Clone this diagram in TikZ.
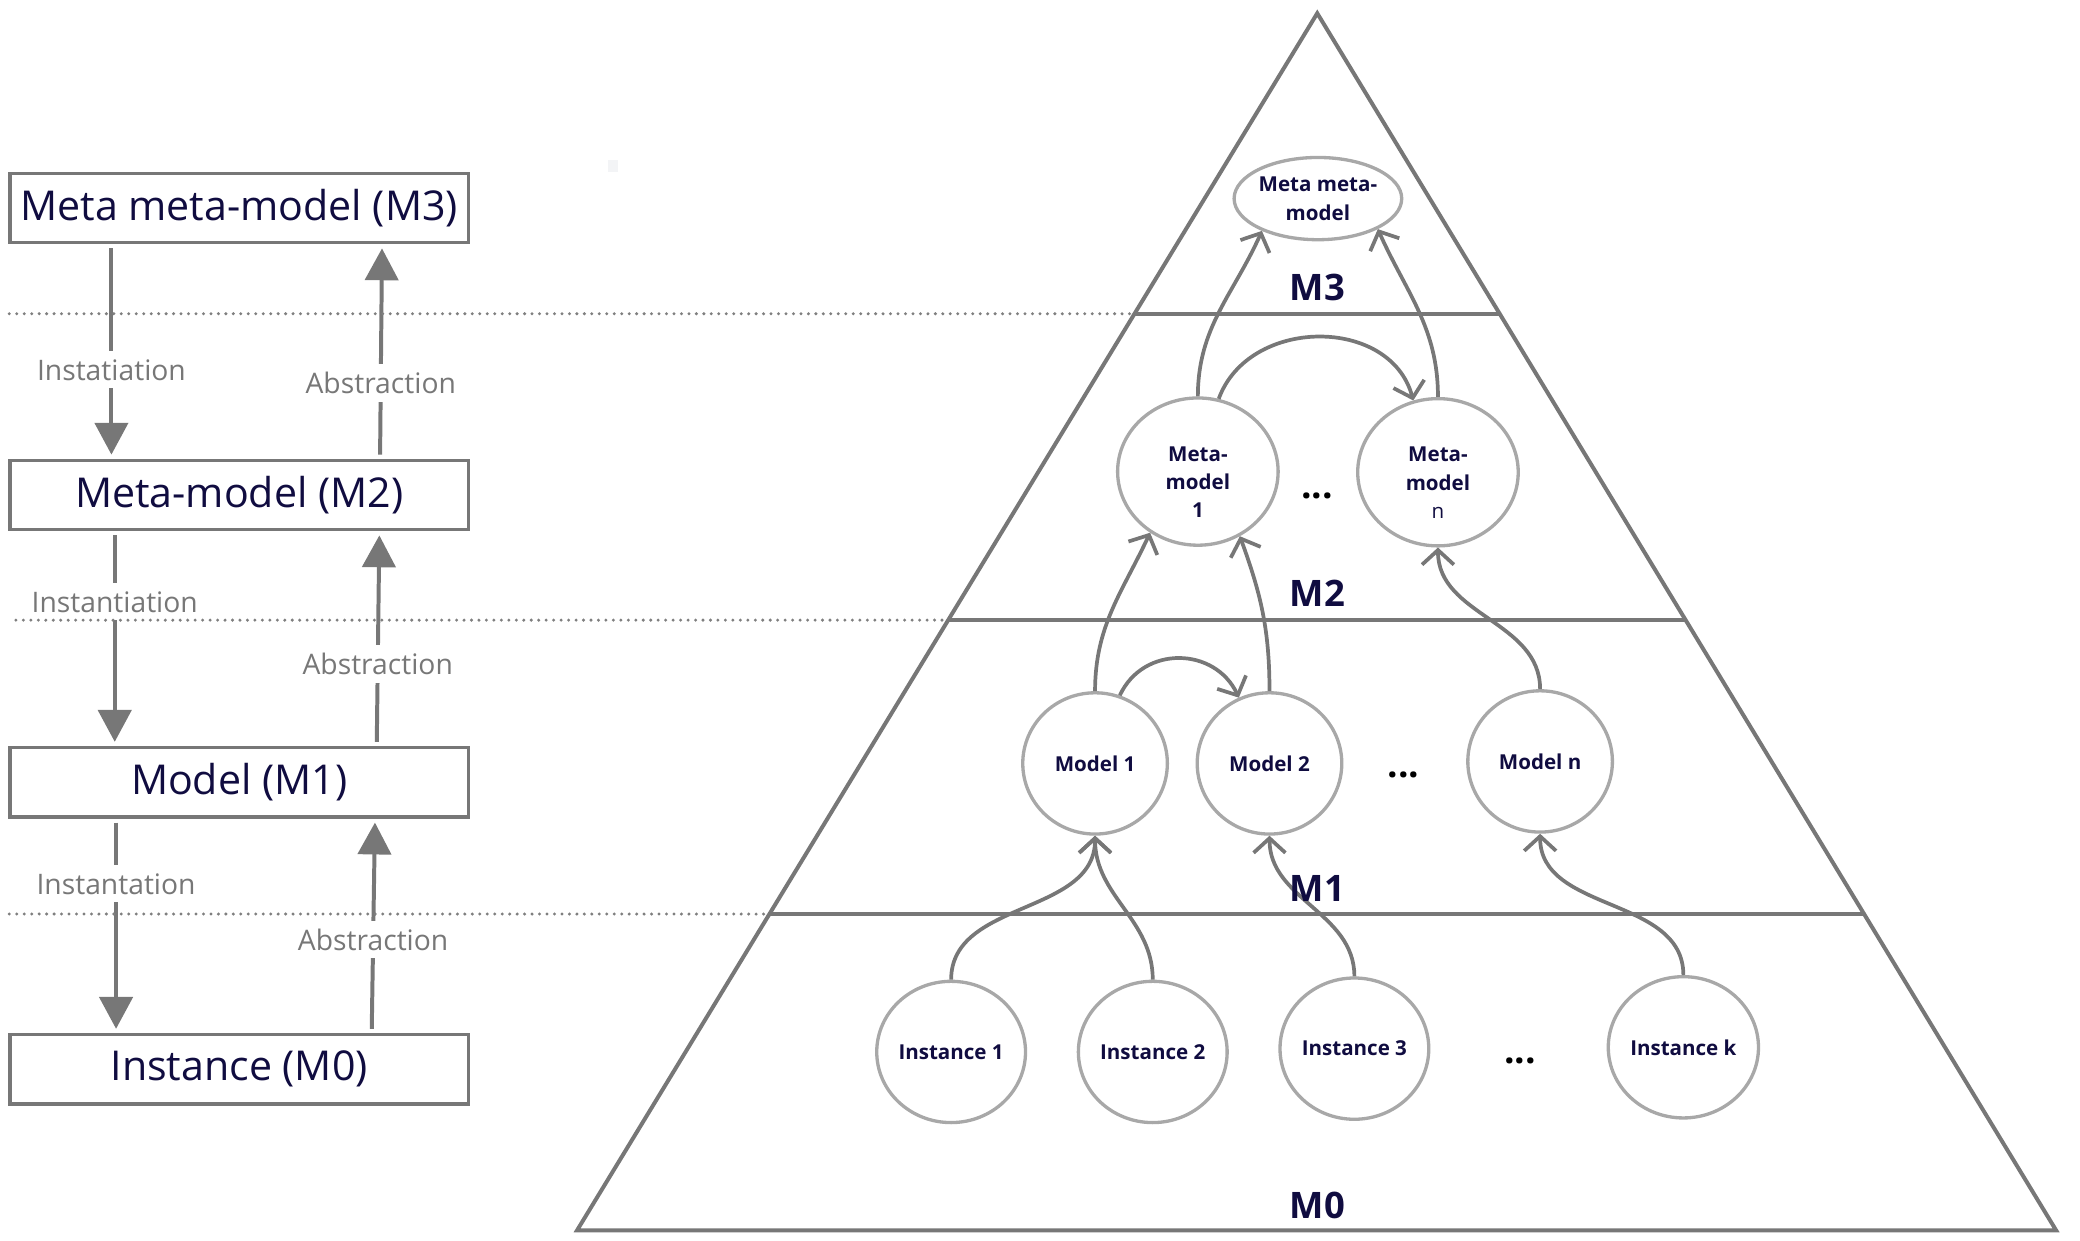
\documentclass[tikz,border=0pt]{standalone}
\usepackage{fontspec}
\setmainfont{Open Sans}
\usetikzlibrary{arrows.meta,calc,shapes.geometric}
\definecolor{navy}{HTML}{100C40}
\definecolor{lgray}{HTML}{777777}
\definecolor{cgray}{HTML}{A8A8A8}
\definecolor{dgray}{HTML}{7F7F7F}
\definecolor{speck}{HTML}{F3F4F6}
\begin{document}
\begin{tikzpicture}[x=1pt,y=-1pt,
  levelbox/.style={draw=lgray, line width=2.6pt, minimum width=345.5pt, minimum height=52.3pt, inner sep=0pt, text=navy, font=\fontsize{31}{36}\selectfont},
  arrlabel/.style={fill=white, text=lgray, font=\fontsize{21.3}{25}\selectfont, inner xsep=2pt, inner ysep=6pt},
  bigarrow/.style={draw=lgray, line width=3pt, shorten <=3pt, shorten >=3pt, -{Triangle[length=24pt,width=25pt]}},
  circ/.style={ellipse, draw=cgray, line width=2.5pt, minimum width=109pt, minimum height=106.5pt, inner sep=0pt, text=navy, font=\bfseries\fontsize{15.5}{21.4}\selectfont, align=center},
  ctext/.style={text=navy, font=\bfseries\fontsize{15.5}{21.4}\selectfont, align=center, inner sep=0pt},
  conn/.style={draw=lgray, line width=2.8pt, -{Straight Barb[length=11pt,width=24pt]}},
  lvl/.style={text=navy, font=\bfseries\fontsize{27.5}{32}\selectfont, inner sep=0pt},
  tri/.style={draw=lgray, line width=3pt},
  dotline/.style={draw=dgray, line width=2.5pt, line cap=round, dash pattern=on 0pt off 5.63pt},
  ellip/.style={text=black, font=\bfseries\fontsize{28}{30}\selectfont, inner sep=0pt}
]
\useasboundingbox (0,0) rectangle (1568,934.8);
\fill[speck] (458.6,120.6) rectangle (466.1,129.4);

% ---------- pyramid ----------
\coordinate (apex) at (993,10);
\coordinate (bl) at (435,927.5);
\coordinate (br) at (1550,927.5);
\coordinate (l3a) at ($(apex)!0.2469!(bl)$);
\coordinate (l3b) at ($(apex)!0.2469!(br)$);
\coordinate (l2a) at ($(apex)!0.4986!(bl)$);
\coordinate (l2b) at ($(apex)!0.4986!(br)$);
\coordinate (l1a) at ($(apex)!0.7401!(bl)$);
\coordinate (l1b) at ($(apex)!0.7401!(br)$);
\draw[tri] (apex) -- (bl) -- (br) -- cycle;
\draw[tri] (l3a) -- (l3b);
\draw[tri] (l2a) -- (l2b);
\draw[tri] (l1a) -- (l1b);

% ---------- nodes in the pyramid ----------
\node[circ, minimum width=121pt, minimum height=62pt] (mmm) at (993.5,149.7) {Meta meta-\\model};
\node[circ, minimum width=121pt, minimum height=111pt,
      label={[ctext,yshift=-8pt]center:{Meta-\\model\\1}}] (mm1) at (903,355.5) {};
\node[circ, minimum width=121pt, minimum height=111pt,
      label={[ctext,yshift=-8pt]center:{Meta-\\model\\{\mdseries n}}}] (mmn) at (1084,356) {};
\node[ellip] (dots2) at (993,373.7) {...};

\node[circ] (model1) at (825.5,575.5) {Model 1};
\node[circ] (model2) at (957,575.5) {Model 2};
\node[ellip] (dots1) at (1058,584) {...};
\node[circ] (modeln) at (1161,574) {Model n};

\node[circ] (inst1) at (717,793) {Instance 1};
\node[circ] (inst2) at (869,793) {Instance 2};
\node[circ] (inst3) at (1021,790.5) {Instance 3};
\node[ellip] (dots0) at (1146,800) {...};
\node[circ] (instk) at (1269,789.5) {Instance k};

% ---------- connectors in the pyramid ----------
\draw[conn] (mm1.north) to[out=90,in=-114] (mmm.-150);
\draw[conn] (mmn.north) to[out=90,in=-66] (mmm.-27);
\draw[conn] (mm1.74) to[out=70,in=105,looseness=1.15] (mmn.109);
\draw[conn] (model1.north) to[out=90,in=-115] (mm1.-128);
\draw[conn] (model2.north) to[out=90,in=-70] (mm1.-57);
\draw[conn] (model1.70) to[out=65,in=115,looseness=1.2] (model2.115);
\draw[conn] (modeln.north) to[out=90,in=-90] (mmn.south);
\draw[conn] (inst1.north) to[out=90,in=-90] (model1.south);
\draw[conn] (inst2.north) to[out=90,in=-90] (model1.south);
\draw[conn] (inst3.north) to[out=90,in=-90] (model2.south);
\draw[conn] (instk.north) to[out=90,in=-90] (modeln.south);

\node[lvl] (lm3) at (993,216.4) {M3};
\node[lvl] (lm2) at (993,447.3) {M2};
\node[lvl] (lm1) at (993,669.7) {M1};
\node[lvl] (lm0) at (993,909) {M0};

% ---------- left stack ----------
\node[levelbox] (m3) at (180.3,156.8) {Meta meta-model (M3)};
\node[levelbox] (m2) at (180.3,373.15) {Meta-model (M2)};
\node[levelbox] (m1) at (180.3,589.65) {Model (M1)};
\node[levelbox] (m0) at (180.3,806) {Instance (M0)};

\draw[bigarrow] ([xshift=-96.3pt]m3.south) -- ([xshift=-96.3pt]m2.north) node[arrlabel,pos=0.586] {Instatiation};
\draw[bigarrow] ([xshift=106.2pt]m2.north) -- ([xshift=107.7pt]m3.south) node[arrlabel,pos=0.352] {Abstraction};
\draw[bigarrow] ([xshift=-93.8pt]m2.south) -- ([xshift=-93.8pt]m1.north) node[arrlabel,pos=0.329] {Instantiation};
\draw[bigarrow] ([xshift=103.7pt]m1.north) -- ([xshift=105.7pt]m2.south) node[arrlabel,pos=0.38] {Abstraction};
\draw[bigarrow] ([xshift=-92.8pt]m1.south) -- ([xshift=-92.8pt]m0.north) node[arrlabel,pos=0.305] {Instantation};
\draw[bigarrow] ([xshift=99.9pt]m0.north) -- ([xshift=102.4pt]m1.south) node[arrlabel,pos=0.435] {Abstraction};

% ---------- dotted separators ----------
\coordinate (d3) at (7,236.5);
\coordinate (d2) at (12,467.5);
\coordinate (d1) at (7,689);
\draw[dotline] (d3) -- (l3a);
\draw[dotline] (d2) -- (l2a);
\draw[dotline] (d1) -- (l1a);
\end{tikzpicture}
\end{document}
